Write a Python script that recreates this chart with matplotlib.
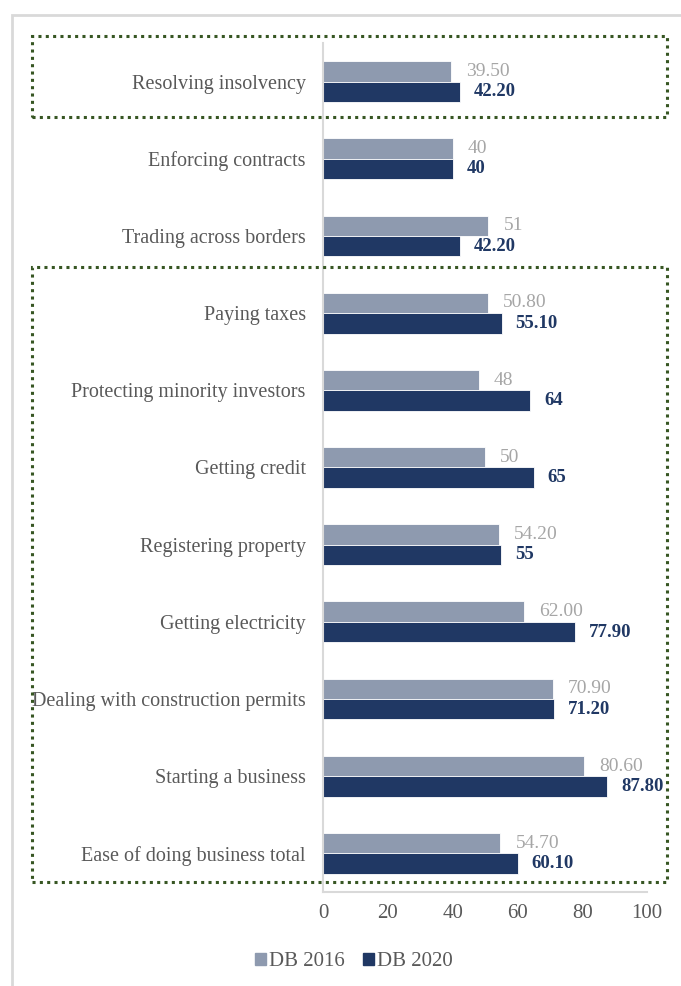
import matplotlib.pyplot as plt
from matplotlib.patches import Rectangle, Patch
import numpy as np

# doing business indicators, top to bottom
categories = [
    "Resolving insolvency",
    "Enforcing contracts",
    "Trading across borders",
    "Paying taxes",
    "Protecting minority investors",
    "Getting credit",
    "Registering property",
    "Getting electricity",
    "Dealing with construction permits",
    "Starting a business",
    "Ease of doing business total",
]
db2016 = [39.5, 40, 51, 50.8, 48, 50, 54.2, 62.0, 70.9, 80.6, 54.7]
db2020 = [42.2, 40, 42.2, 55.1, 64, 65, 55, 77.9, 71.2, 87.8, 60.1]
labels2016 = ["39.50", "40", "51", "50.80", "48", "50", "54.20", "62.00", "70.90", "80.60", "54.70"]
labels2020 = ["42.20", "40", "42.20", "55.10", "64", "65", "55", "77.90", "71.20", "87.80", "60.10"]
xticks = [0, 20, 40, 60, 80, 100]

c16 = "#8E9AAF"
c20 = "#203864"
txt = "#595959"
W, H = 681, 986

plt.rcParams["font.family"] = ["Liberation Serif", "DejaVu Serif"]

fig = plt.figure(figsize=(W / 100, H / 100), dpi=100)
ax = fig.add_axes([323 / W, 1 - 892 / H, (647 - 323) / W, (892 - 43) / H])

y = np.arange(len(categories))
h = 0.265
ax.barh(y - h / 2, db2016, height=h, color=c16, edgecolor="white", linewidth=0.6)
ax.barh(y + h / 2, db2020, height=h, color=c20, edgecolor="white", linewidth=0.6)

for i in range(len(categories)):
    ax.annotate(labels2016[i], (db2016[i], y[i] - h / 2), xytext=(11, 0),
                textcoords="offset points", va="center", ha="left",
                fontsize=14, color="#A6A6A6")
    ax.annotate(labels2020[i], (db2020[i], y[i] + h / 2), xytext=(10, 0),
                textcoords="offset points", va="center", ha="left",
                fontsize=13.5, color=c20, fontweight="bold")

ax.set_xlim(0, 100)
ax.set_ylim(len(categories) - 0.5, -0.5)
ax.set_xticks(xticks)
ax.set_yticks(y)
ax.set_yticklabels(categories)
ax.tick_params(axis="y", length=0, pad=12.5, labelsize=14.5, labelcolor=txt)
ax.tick_params(axis="x", length=0, pad=9, labelsize=15, labelcolor=txt)
for s in ["top", "right"]:
    ax.spines[s].set_visible(False)
for s in ["left", "bottom"]:
    ax.spines[s].set_color("#D9D9D9")
    ax.spines[s].set_linewidth(1.5)

# outer chart frame
fig.patches.append(Rectangle((12 / W, -0.1), 2, 1 - 15 / H + 0.1, transform=fig.transFigure,
                             fill=False, edgecolor="#D9D9D9", linewidth=2))

# dotted highlight boxes
box_style = dict(fill=False, edgecolor="#375623", linewidth=2.2, linestyle=(0, (1, 1.4)),
                 transform=fig.transFigure)
for top, bottom in [(36, 117), (267, 882)]:
    fig.patches.append(Rectangle((32 / W, 1 - bottom / H), (667 - 32) / W, (bottom - top) / H,
                                 **box_style))

handles = [Patch(color=c16, label="DB 2016"), Patch(color=c20, label="DB 2020")]
fig.legend(handles=handles, loc="center", bbox_to_anchor=(354 / W, 1 - 962 / H), ncol=2,
           frameon=False, fontsize=15, labelcolor=txt, handlelength=0.5, handleheight=0.5,
           handletextpad=0.15, columnspacing=0.9)

fig.savefig("out.png", dpi=100)
